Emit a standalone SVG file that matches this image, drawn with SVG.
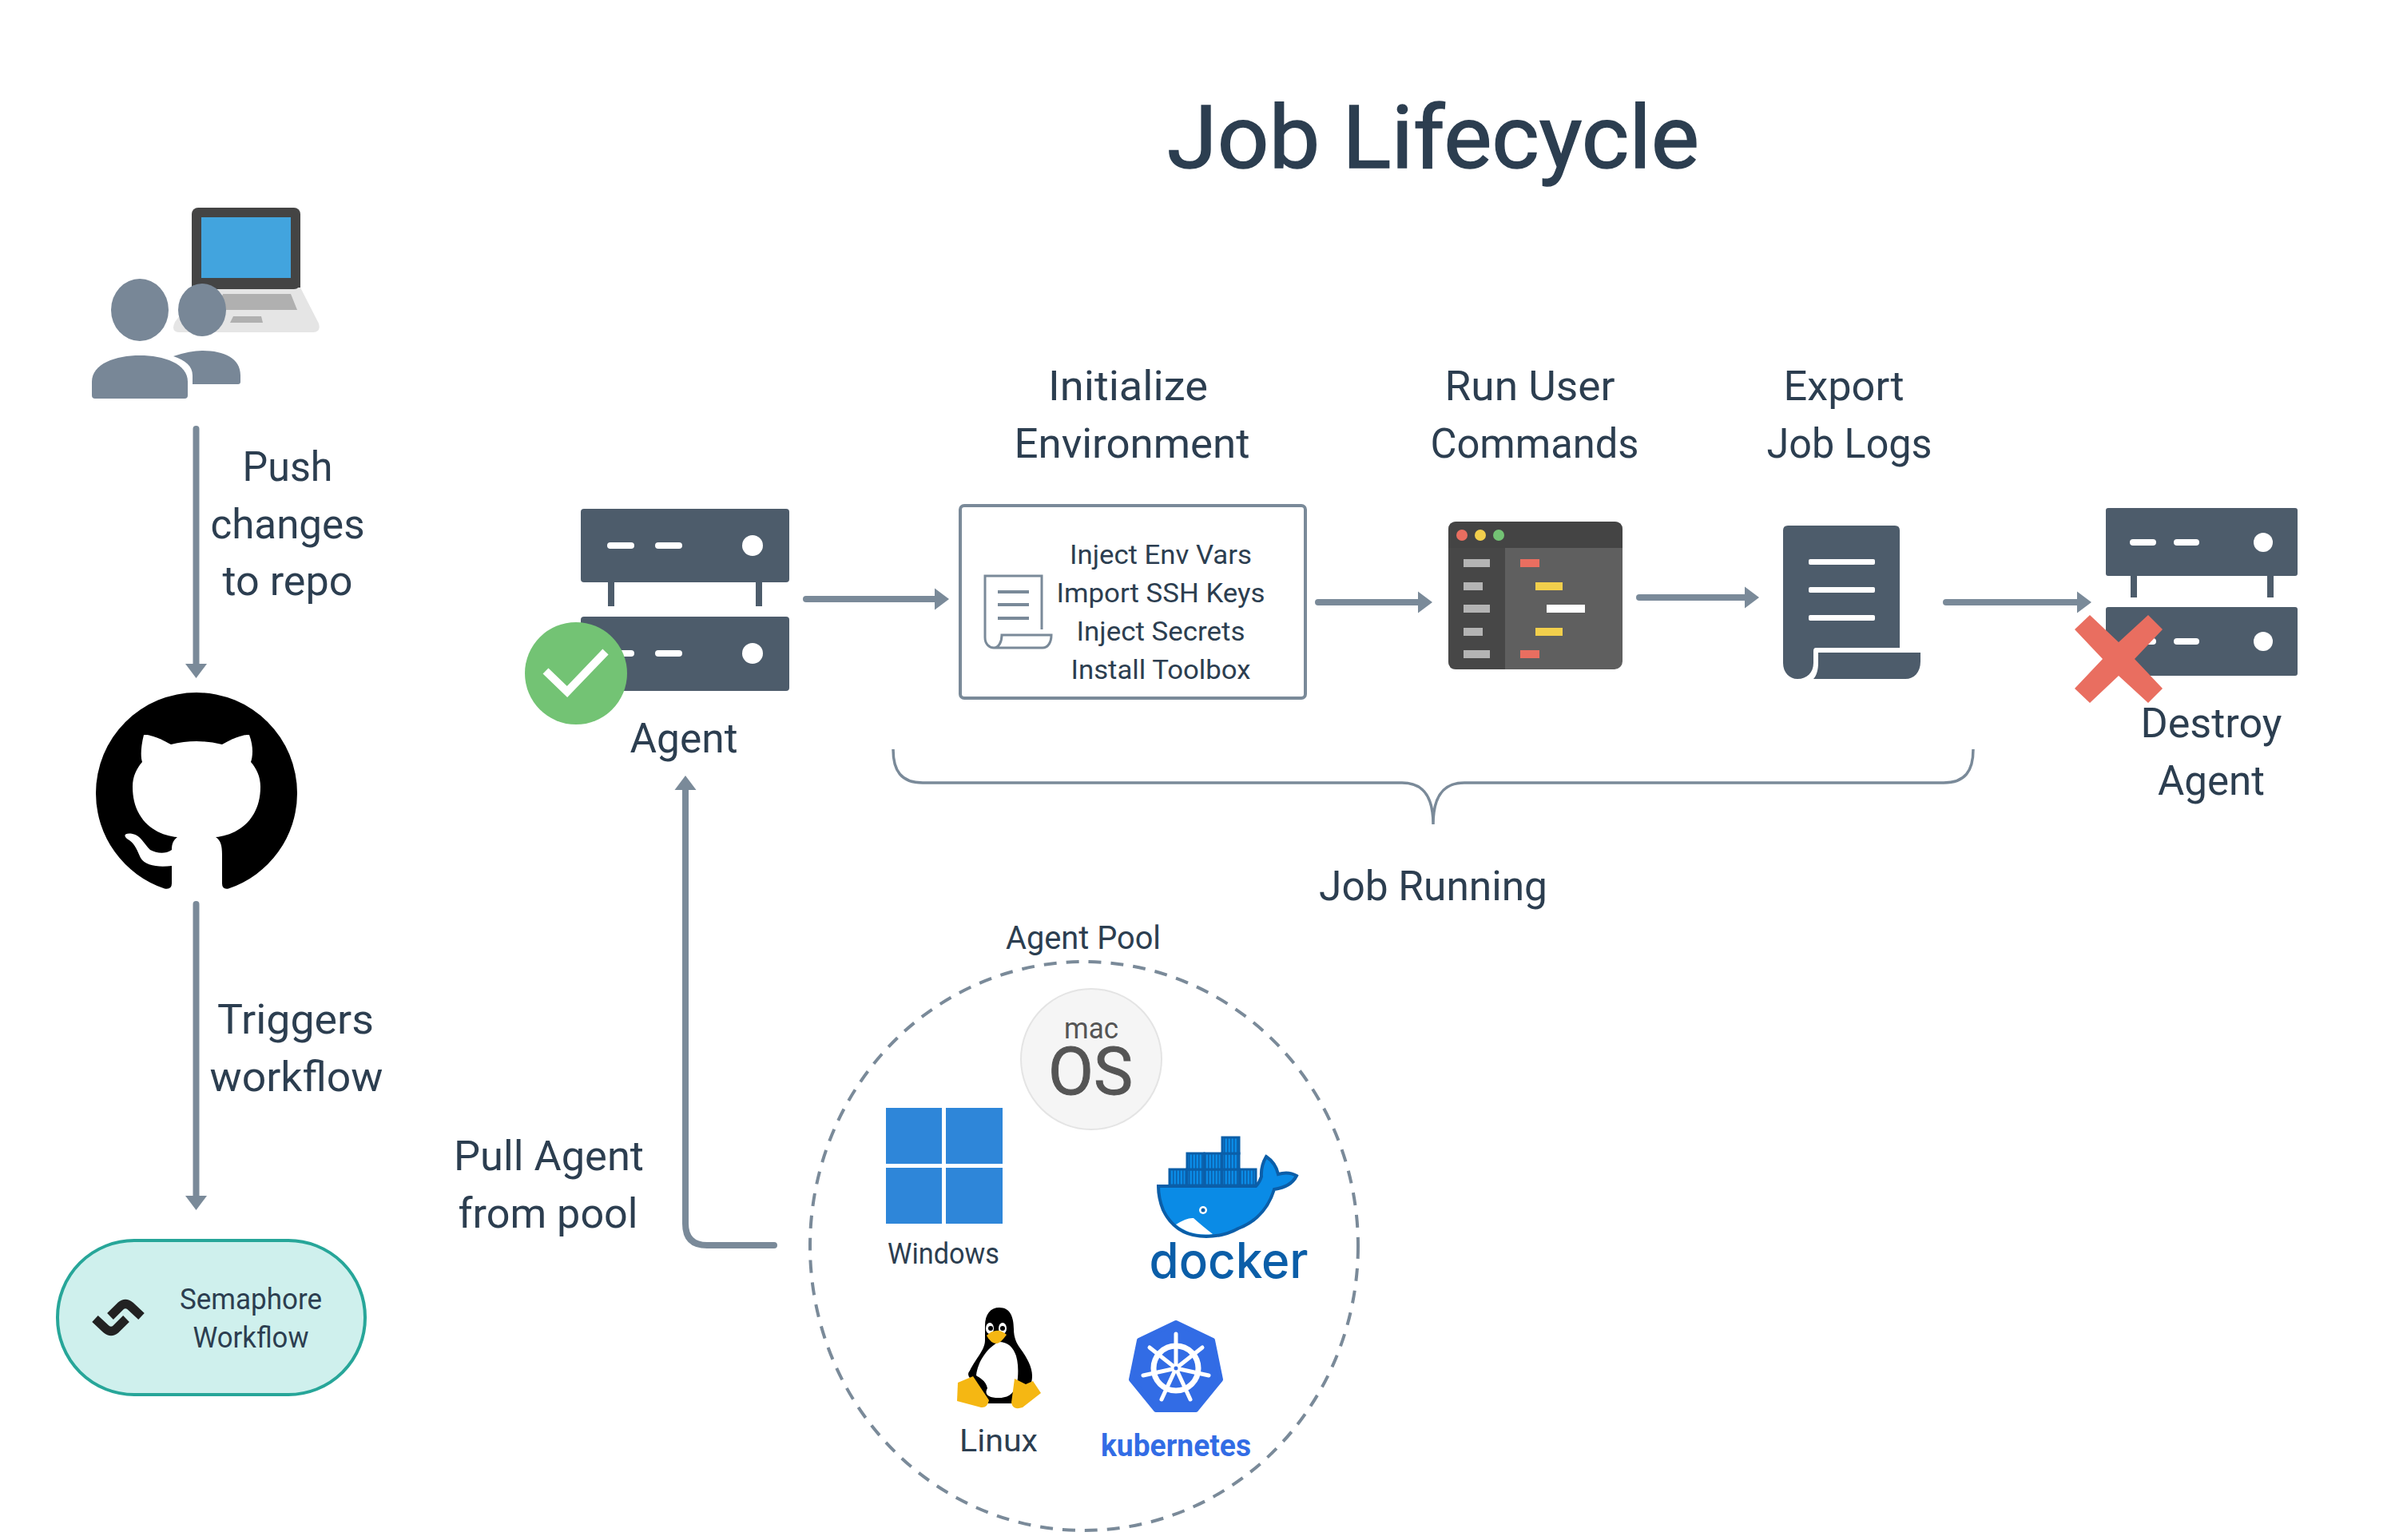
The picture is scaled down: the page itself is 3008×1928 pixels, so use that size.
<svg xmlns="http://www.w3.org/2000/svg" width="3008" height="1928" viewBox="0 0 3008 1928">
<style>
text{font-family:"Roboto","Liberation Sans",sans-serif;fill:#2c3e50;text-anchor:middle}
.l{font-size:52px}
.b{font-size:33px}
.s{fill:#4d5c6b}
.c{fill:none;stroke:#7a8a99;stroke-width:8;stroke-linecap:round;stroke-linejoin:round}
.w{fill:#fff}
.h{fill:#7a8a99}
.p{fill:#788797}
</style>
<defs>
<marker id="ah" markerUnits="userSpaceOnUse" markerWidth="20" markerHeight="30" refX="6" refY="15" orient="auto"><path d="M0 1.500L18 15L0 28.500Z" class="h"/></marker>
<pattern id="st" patternUnits="userSpaceOnUse" width="4" height="20"><rect width="4" height="20" fill="#0a8be6"/><rect width="1.500" height="20" fill="#0b5ea8"/></pattern>
<g id="srv">
<rect x="0" y="0" width="261" height="92" rx="4" class="s"/>
<rect x="0" y="135" width="261" height="93" rx="4" class="s"/>
<rect x="34" y="92" width="8" height="30" class="s"/>
<rect x="219" y="92" width="8" height="30" class="s"/>
<rect x="33" y="42" width="34" height="8" rx="4" class="w"/><rect x="93" y="42" width="34" height="8" rx="4" class="w"/><circle cx="215" cy="46" r="13" class="w"/>
<rect x="33" y="177" width="34" height="8" rx="4" class="w"/><rect x="93" y="177" width="34" height="8" rx="4" class="w"/><circle cx="215" cy="181" r="13" class="w"/>
</g>
</defs>
<rect width="3008" height="1928" fill="#fff"/>
<text id="title" x="1794" y="210" font-size="110" stroke="#2c3e50" stroke-width="1.500" textLength="666" lengthAdjust="spacingAndGlyphs">Job Lifecycle</text>

<g id="connectors">
<path class="c" d="M245.500 537V837" marker-end="url(#ah)"/>
<path class="c" d="M245.500 1132V1503" marker-end="url(#ah)"/>
<path class="c" d="M1009 750H1176" marker-end="url(#ah)"/>
<path class="c" d="M1650 754H1781" marker-end="url(#ah)"/>
<path class="c" d="M2052 748H2190" marker-end="url(#ah)"/>
<path class="c" d="M2436 754H2606" marker-end="url(#ah)"/>
<path class="c" d="M969 1559H885Q858 1559 858 1532V983" marker-end="url(#ah)"/>
<path id="bracket" d="M1118 938C1118 965 1128 980 1155 980H1755C1780 980 1794 995 1794 1032C1794 995 1808 980 1833 980H2433C2460 980 2470 965 2470 938" fill="none" stroke="#7a8a99" stroke-width="3.500"/>
</g>

<g id="users">
<path d="M252 360H376L399 405Q402 416 392 416H225Q213 416 219 403Z" fill="#e5e5e5"/>
<rect x="240" y="260" width="136" height="102" rx="8" fill="#444"/>
<rect x="240" y="340" width="136" height="20" fill="#444"/>
<rect x="252" y="272" width="112" height="76" fill="#42a4de"/>
<path d="M279 368H364L372 388H271Z" fill="#b0b0b0"/>
<path d="M292 396H327L329 404H288Z" fill="#b0b0b0"/>
<ellipse cx="175" cy="388" rx="36" ry="39" class="p"/>
<ellipse cx="253" cy="388" rx="30" ry="33" class="p"/>
<path d="M217 446Q238 439 253 439C280 439 301 448 301 470V478Q301 481 298 481H241V470C241 458 232 451 217 446Z" class="p"/>
<path d="M115 478C115 455 145 445 175 445C205 445 235 455 235 478V495Q235 499 231 499H119Q115 499 115 495Z" class="p"/>
</g>
<g id="push-label">
<text class="l" x="360" y="602" textLength="113" lengthAdjust="spacingAndGlyphs">Push</text>
<text class="l" x="360" y="674" textLength="193" lengthAdjust="spacingAndGlyphs">changes</text>
<text class="l" x="360" y="745" textLength="163" lengthAdjust="spacingAndGlyphs">to repo</text>
</g>
<g id="github">
<path fill="#000" d="M246 867A126 126 0 0 1 372 993A126 126 0 0 1 286 1112.500Q278 1114 278 1106V1070C278 1058 276 1052 270 1048C295 1046 326 1028 326 985C326 972 321 962 314 954C316 948 318 936 312 920C312 920 302 918 278 932Q246 924 214 932C190 918 180 920 180 920C176 936 176 948 178 954C171 962 166 972 166 985C166 1028 196 1046 222 1048C217 1052 215 1056 215 1064C206 1070 196 1068 188 1064C180 1056 176 1046 166 1044C154 1042 154 1048 162 1052C170 1058 172 1066 176 1074C182 1084 198 1086 215 1084V1106Q215 1114 206 1112.500A126 126 0 0 1 120 993A126 126 0 0 1 246 867Z"/>
</g>
<g id="trigger-label">
<text class="l" x="370" y="1294" textLength="196" lengthAdjust="spacingAndGlyphs">Triggers</text>
<text class="l" x="371" y="1366" textLength="217" lengthAdjust="spacingAndGlyphs">workflow</text>
</g>
<g id="semaphore">
<rect x="72" y="1553" width="385" height="193" rx="96" fill="#cff0ed" stroke="#27a699" stroke-width="4"/>
<path d="M119 1651L133 1664Q139 1669 145 1664L158 1651M138 1648L151 1635Q157 1630 163 1635L177 1648" fill="none" stroke="#222" stroke-width="11"/>
<text x="314" y="1639" font-size="36" textLength="178" lengthAdjust="spacingAndGlyphs">Semaphore</text>
<text x="314" y="1687" font-size="36" textLength="145" lengthAdjust="spacingAndGlyphs">Workflow</text>
</g>
<g id="agent">
<use href="#srv" x="727" y="637"/>
<circle cx="721" cy="843" r="64" fill="#73c374"/>
<path d="M683 840L710 866L758 816" fill="none" stroke="#fff" stroke-width="10"/>
<text class="l" x="856" y="942" textLength="135" lengthAdjust="spacingAndGlyphs">Agent</text>
</g>
<g id="init">
<text class="l" x="1412" y="501" textLength="200" lengthAdjust="spacingAndGlyphs">Initialize</text>
<text class="l" x="1417" y="573" textLength="295" lengthAdjust="spacingAndGlyphs">Environment</text>
<rect x="1202" y="633" width="432" height="241" rx="5" fill="#fff" stroke="#7a8a99" stroke-width="4"/>
<path d="M1304 788V721H1233V798C1233 806 1238 811 1244 811H1305C1312 811 1316 804 1316 795H1254C1254 804 1250 811 1244 811" fill="none" stroke="#7a8a99" stroke-width="3"/>
<path d="M1249 741H1288M1249 757H1288M1249 774H1288" stroke="#7a8a99" stroke-width="4"/>
<text class="b" x="1453" y="706" textLength="228" lengthAdjust="spacingAndGlyphs">Inject Env Vars</text>
<text class="b" x="1453" y="754" textLength="261" lengthAdjust="spacingAndGlyphs">Import SSH Keys</text>
<text class="b" x="1453" y="802" textLength="211" lengthAdjust="spacingAndGlyphs">Inject Secrets</text>
<text class="b" x="1453" y="850" textLength="225" lengthAdjust="spacingAndGlyphs">Install Toolbox</text>
</g>
<g id="run">
<text class="l" x="1915" y="501" textLength="213" lengthAdjust="spacingAndGlyphs">Run User</text>
<text class="l" x="1921" y="573" textLength="261" lengthAdjust="spacingAndGlyphs">Commands</text>
<rect x="1813" y="653" width="218" height="185" rx="10" fill="#5f5f5f"/>
<path d="M1884 686H1813V828Q1813 838 1823 838H1884Z" fill="#474747"/>
<path d="M1813 686V663Q1813 653 1823 653H2021Q2031 653 2031 663V686Z" fill="#444"/>
<circle cx="1830" cy="670" r="7" fill="#e96e60"/><circle cx="1853" cy="670" r="7" fill="#f2cf4c"/><circle cx="1876" cy="670" r="7" fill="#73c374"/>
<g fill="#b4b4b4"><rect x="1832" y="700" width="33" height="10"/><rect x="1832" y="729" width="24" height="10"/><rect x="1832" y="757" width="33" height="10"/><rect x="1832" y="786" width="24" height="10"/><rect x="1832" y="814" width="33" height="10"/></g>
<rect x="1903" y="700" width="24" height="10" fill="#e96e60"/><rect x="1922" y="729" width="34" height="10" fill="#f2cf4c"/><rect x="1936" y="757" width="48" height="10" fill="#fff"/><rect x="1922" y="786" width="34" height="10" fill="#f2cf4c"/><rect x="1903" y="814" width="24" height="10" fill="#e96e60"/>
</g>
<g id="export">
<text class="l" x="2308" y="501" textLength="151" lengthAdjust="spacingAndGlyphs">Export</text>
<text class="l" x="2315" y="573" textLength="207" lengthAdjust="spacingAndGlyphs">Job Logs</text>
<path d="M2232 664Q2232 658 2238 658H2372Q2378 658 2378 664V811H2273Q2270 811 2270 815V830C2270 842 2262 850 2250 850C2240 850 2232 842 2232 830Z" class="s"/>
<path d="M2276 817H2404V828C2404 842 2396 850 2385 850H2270C2274 846 2276 838 2276 830Z" class="s"/>
<g class="w"><rect x="2264" y="700" width="83" height="7" rx="2"/><rect x="2264" y="735" width="83" height="7" rx="2"/><rect x="2264" y="770" width="83" height="7" rx="2"/></g>
</g>
<g id="destroy">
<rect x="2636" y="636" width="240" height="85" rx="3" class="s"/>
<rect x="2636" y="760" width="240" height="86" rx="3" class="s"/>
<rect x="2667" y="721" width="8" height="27" class="s"/><rect x="2838" y="721" width="8" height="27" class="s"/>
<rect x="2666" y="675" width="33" height="8" rx="4" class="w"/><rect x="2721" y="675" width="32" height="8" rx="4" class="w"/><circle cx="2833" cy="679" r="12" class="w"/>
<rect x="2666" y="799" width="33" height="8" rx="4" class="w"/><rect x="2721" y="799" width="32" height="8" rx="4" class="w"/><circle cx="2833" cy="803" r="12" class="w"/>
<path fill="#e96e60" d="M2616 770L2652 804L2689 770L2707 788L2672 825L2707 862L2689 880L2652 846L2616 880L2597 862L2632 825L2597 788Z"/>
<text class="l" x="2768" y="923" textLength="177" lengthAdjust="spacingAndGlyphs">Destroy</text>
<text class="l" x="2768" y="995" textLength="134" lengthAdjust="spacingAndGlyphs">Agent</text>
</g>
<text id="job-running" class="l" x="1794" y="1127" textLength="286" lengthAdjust="spacingAndGlyphs">Job Running</text>
<text id="pull-1" class="l" x="687" y="1465" textLength="238" lengthAdjust="spacingAndGlyphs">Pull Agent</text>
<text id="pull-2" class="l" x="686" y="1537" textLength="225" lengthAdjust="spacingAndGlyphs">from pool</text>
<g id="pool">
<text x="1356" y="1188" font-size="40" textLength="194" lengthAdjust="spacingAndGlyphs">Agent Pool</text>
<ellipse cx="1357" cy="1560" rx="343" ry="356" fill="none" stroke="#7a8a99" stroke-width="4" stroke-dasharray="16 12"/>
</g>
<g id="macos">
<circle cx="1366" cy="1326" r="88" fill="#f5f5f5" stroke="#e4e4e4" stroke-width="2"/>
<text style="fill:#555" x="1366" y="1300" font-size="36" textLength="68" lengthAdjust="spacingAndGlyphs">mac</text>
<text style="fill:#555" x="1365" y="1370" font-size="84" stroke="#555" stroke-width="1" textLength="106" lengthAdjust="spacingAndGlyphs">OS</text>
</g>
<g id="windows" fill="#2e86d9">
<rect x="1109" y="1387" width="70" height="70"/><rect x="1184" y="1387" width="71" height="70"/><rect x="1109" y="1462" width="70" height="70"/><rect x="1184" y="1462" width="71" height="70"/>
<text x="1181" y="1582" font-size="36" textLength="140" lengthAdjust="spacingAndGlyphs">Windows</text>
</g>
<g id="docker">
<path fill="#0a8be6" stroke="#0b5ea8" stroke-width="4" d="M1450 1485H1572Q1577 1480 1579 1473Q1578 1460 1585 1448Q1597 1456 1600 1470Q1613 1466 1623 1472Q1616 1486 1595 1489Q1584 1525 1550 1538Q1532 1548 1510 1548Q1472 1548 1456 1515Q1450 1500 1450 1485Z"/>
<path fill="#fff" d="M1472 1533Q1486 1524 1494 1525Q1504 1534 1518 1545Q1490 1548 1472 1533Z"/>
<circle cx="1506" cy="1515" r="5" fill="#fff"/><circle cx="1506" cy="1515" r="2.500" fill="#0b5ea8"/>
<g fill="url(#st)" stroke="#0b5ea8" stroke-width="3">
<rect x="1464" y="1464" width="21" height="20"/><rect x="1486" y="1464" width="21" height="20"/><rect x="1508" y="1464" width="21" height="20"/><rect x="1530" y="1464" width="21" height="20"/><rect x="1552" y="1464" width="20" height="20"/>
<rect x="1486" y="1444" width="21" height="20"/><rect x="1508" y="1444" width="21" height="20"/><rect x="1530" y="1444" width="21" height="20"/>
<rect x="1530" y="1424" width="21" height="20"/>
</g>
<text style="fill:#0b5ea8;font-family:Inter,'Noto Sans',sans-serif" x="1538" y="1600" font-size="62" textLength="199" lengthAdjust="spacingAndGlyphs" font-weight="500">docker</text>
</g>
<g id="linux">
<path fill="#000" d="M1251 1637C1264 1637 1269 1648 1269 1664C1269 1672 1271 1680 1277 1688C1286 1700 1292 1712 1292 1722C1292 1732 1290 1734 1284 1733L1272 1757H1232L1214 1725Q1210 1720 1214 1716C1222 1700 1233 1690 1233 1678V1660C1233 1645 1240 1637 1251 1637Z"/>
<path fill="#fff" d="M1250 1680C1270 1680 1276 1700 1274 1725C1272 1745 1262 1750 1250 1750C1236 1750 1232 1745 1236 1738C1234 1728 1226 1725 1222 1722C1224 1705 1235 1688 1250 1680Z"/>
<ellipse cx="1239" cy="1663" rx="5" ry="7" fill="#fff"/><ellipse cx="1255" cy="1663" rx="5" ry="7" fill="#fff"/><circle cx="1240" cy="1663" r="3" fill="#000"/><circle cx="1255" cy="1663" r="3" fill="#000"/>
<path fill="#f5b713" d="M1235 1672Q1248 1660 1260 1671Q1252 1682 1248 1682Q1240 1682 1235 1672Z"/>
<path fill="#f5b713" d="M1199 1731L1218 1723L1228 1738L1238 1753Q1236 1763 1228 1762L1198 1754Z"/>
<path fill="#f5b713" d="M1270 1726L1284 1733L1293 1729L1303 1744L1280 1762Q1268 1766 1266 1756Z"/>
<text x="1250" y="1817" font-size="38" textLength="98" lengthAdjust="spacingAndGlyphs">Linux</text>
</g>
<g id="kubernetes">
<path fill="#326ce5" stroke="#326ce5" stroke-width="6" stroke-linejoin="round" d="M1472 1656L1518 1678L1528 1727L1497 1765H1447L1416 1727L1426 1678Z"/>
<circle cx="1472" cy="1713" r="28" fill="none" stroke="#fff" stroke-width="7"/>
<path d="M1472 1670V1713M1472 1713L1505 1687M1472 1713L1439 1687M1472 1713L1513 1722M1472 1713L1431 1722M1472 1713L1490 1752M1472 1713L1454 1752" fill="none" stroke="#fff" stroke-width="5" stroke-linecap="round"/>
<circle cx="1472" cy="1713" r="4" fill="#326ce5" stroke="#fff" stroke-width="3"/>
<text style="fill:#326ce5" x="1472" y="1823" font-size="38" font-weight="700" textLength="188" lengthAdjust="spacingAndGlyphs">kubernetes</text>
</g>
</svg>
